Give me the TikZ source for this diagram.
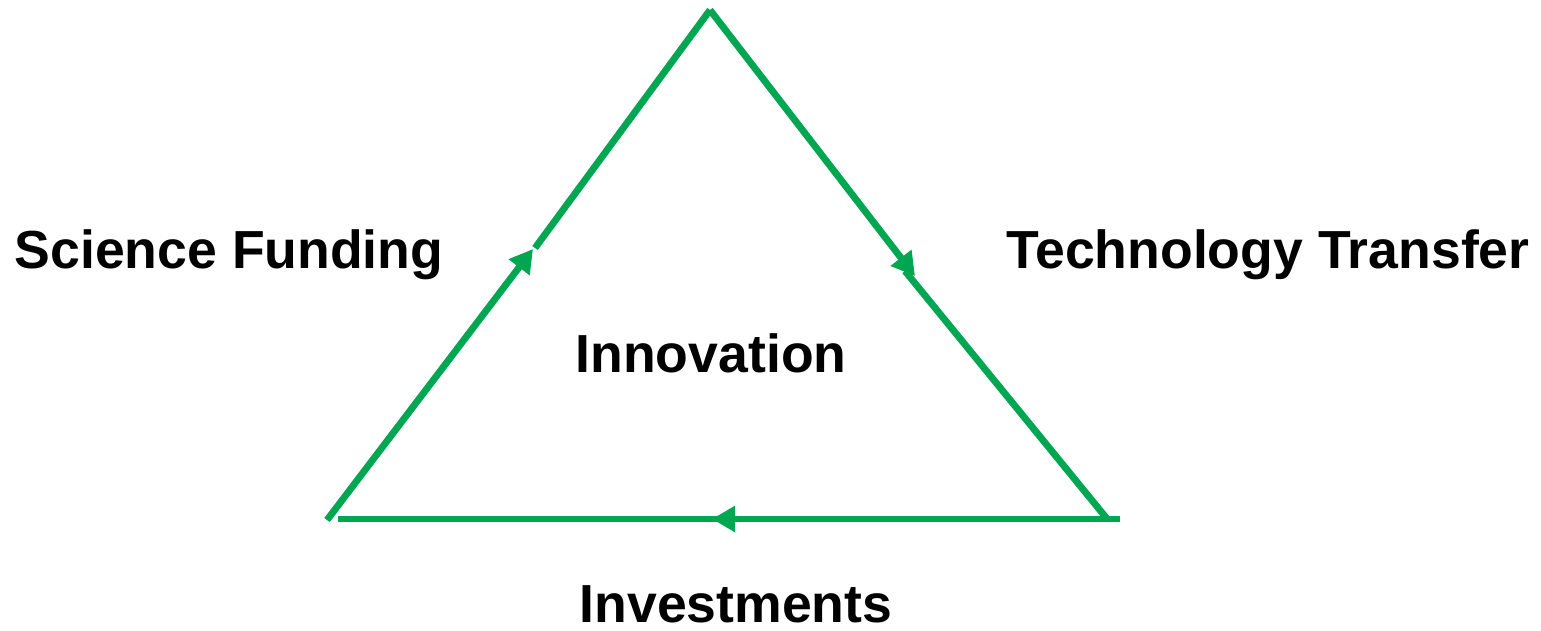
\documentclass[tikz,border=0pt]{standalone}
\usepackage{fontspec}
\setmainfont{Liberation Sans}
\usetikzlibrary{arrows.meta}
\definecolor{leafgreen}{RGB}{0,166,81}

\begin{document}
\begin{tikzpicture}[x=0.02cm,y=-0.02cm]
  \tikzstyle{edge}=[draw=leafgreen,line width=3.9pt]
  \tikzstyle{tip}=[-{Triangle[length=0.46cm,width=0.5cm]}]
  \tikzstyle{label}=[font=\fontsize{30.5}{36}\selectfont\bfseries,anchor=base,inner sep=0pt]
  \useasboundingbox (0,0) rectangle (1541,630);

  \coordinate (T_1) at (327,520);
  \coordinate (T_2) at (533,249);
  \coordinate (T_3) at (535,248);
  \coordinate (T_4) at (710,10);
  \coordinate (T_5) at (915,276);
  \coordinate (T_6) at (905,271);
  \coordinate (T_7) at (1108,520);
  \coordinate (T_8) at (1120,519);
  \coordinate (T_9) at (712,519);
  \coordinate (T_10) at (338,519);
  \coordinate (T_11) at (725,519);

  \draw[edge,tip] (T_1) -- (T_2);
  \draw[edge] (T_3) -- (T_4);
  \draw[edge,tip] (T_4) -- (T_5);
  \draw[edge] (T_6) -- (T_7);
  \draw[edge,tip] (T_8) -- (T_9);
  \draw[edge] (T_10) -- (T_11);

  \node[label] (science) at (229,268) {Science Funding};
  \node[label] (transfer) at (1268,268) {Technology Transfer};
  \node[label] (innovation) at (711,372) {Innovation};
  \node[label] (invest) at (736,622) {Investments};
\end{tikzpicture}
\end{document}
